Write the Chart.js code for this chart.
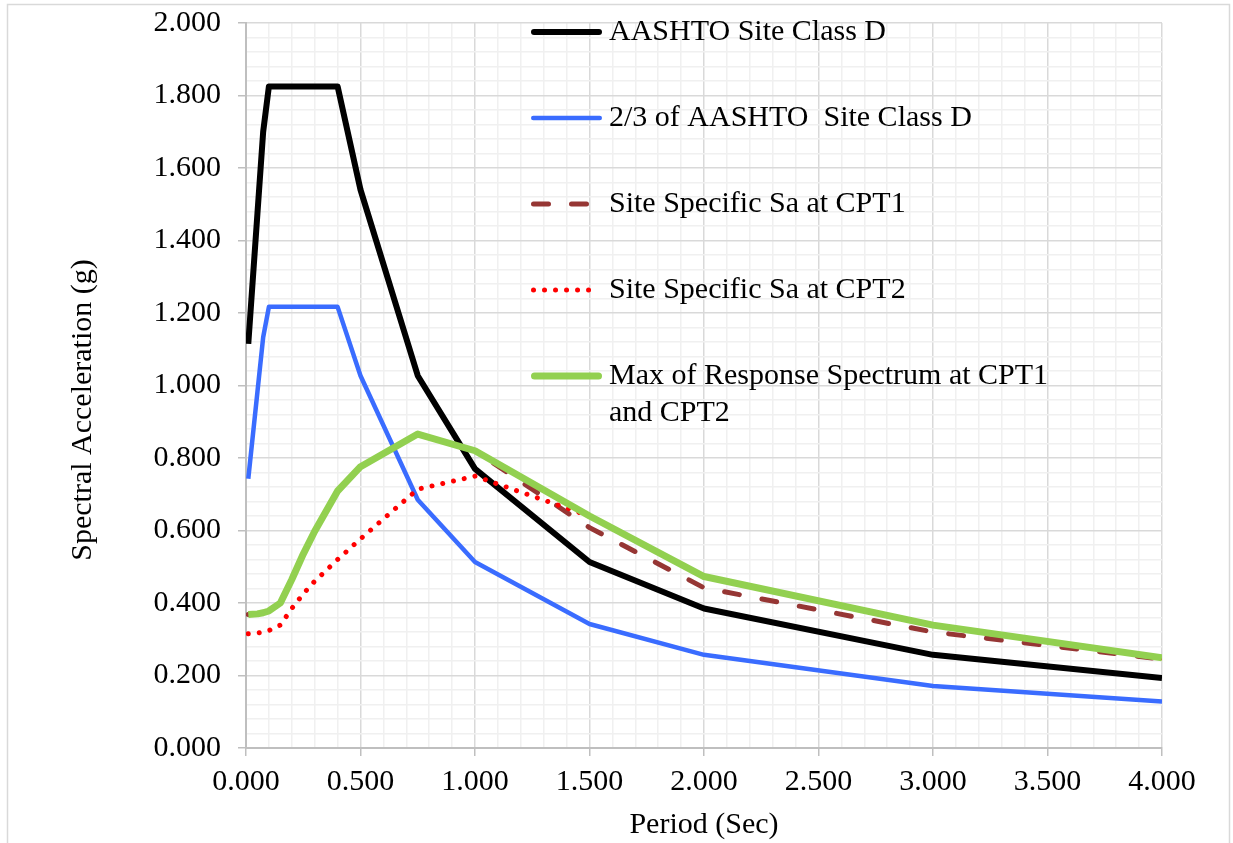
<!DOCTYPE html>
<html>
<head>
<meta charset="utf-8">
<script src="https://cdn.jsdelivr.net/npm/chart.js@4.4.1/dist/chart.umd.min.js"></script>
<style>
  html, body { margin: 0; padding: 0; background: #fff; }
  canvas { display: block; }
</style>
</head>
<body>
<canvas id="spectrumChart" width="1233" height="843"></canvas>
<script>
// Periods (sec) shared by every spectrum
const periods = [0.01, 0.05, 0.075, 0.1, 0.15, 0.2, 0.25, 0.3, 0.4, 0.5, 0.75, 1.0, 1.5, 2.0, 3.0, 4.0];

// Spectral acceleration (g)
const aashtoD    = [1.115, 1.475, 1.700, 1.825, 1.825, 1.825, 1.825, 1.825, 1.825, 1.540, 1.027, 0.770, 0.513, 0.385, 0.257, 0.193];
const twoThirdsD = [0.743, 0.983, 1.133, 1.217, 1.217, 1.217, 1.217, 1.217, 1.217, 1.027, 0.685, 0.513, 0.342, 0.257, 0.171, 0.128];
const sitesCpt1  = [0.368, 0.370, 0.373, 0.378, 0.400, 0.465, 0.535, 0.598, 0.709, 0.776, 0.866, 0.820, 0.608, 0.442, 0.320, 0.245];
const sitesCpt2  = [0.315, 0.317, 0.320, 0.324, 0.339, 0.385, 0.425, 0.460, 0.520, 0.577, 0.714, 0.750, 0.640, 0.473, 0.339, 0.249];
const maxEnvelope = [0.368, 0.370, 0.373, 0.378, 0.400, 0.465, 0.535, 0.598, 0.709, 0.776, 0.866, 0.820, 0.640, 0.473, 0.339, 0.249];

const seriesNames = [
    'AASHTO Site Class D',
    '2/3 of AASHTO  Site Class D',
    'Site Specific Sa at CPT1',
    'Site Specific Sa at CPT2',
    'Max of Response Spectrum at CPT1\nand CPT2'
];

const xTitle = 'Period (Sec)';
const yTitle = 'Spectral Acceleration (g)';

const xMin = 0, xMax = 4, xStep = 0.1, xMajor = 0.5;
const yMin = 0, yMax = 2, yStep = 0.04, yMajor = 0.2;

const FONT = "'Liberation Serif', 'Times New Roman', serif";

function isMultiple(v, m) {
    const r = v / m;
    return Math.abs(r - Math.round(r)) < 1e-6;
}

function points(values) {
    return periods.map((t, i) => ({ x: t, y: values[i] }));
}

// Legend drawn inside the plot area, over the grid
const insideLegend = {
    id: 'insideLegend',
    afterDraw(chart) {
        const ctx = chart.ctx;
        const rows = [32, 118, 204, 290, 376];
        const x0 = 531, x1 = 602, textX = 609;
        ctx.save();
        chart.data.datasets.forEach((ds, i) => {
            const y = rows[i];
            const w = ds.borderWidth;
            ctx.beginPath();
            ctx.strokeStyle = ds.borderColor;
            ctx.lineWidth = w;
            ctx.lineCap = 'round';
            ctx.setLineDash(ds.borderDash || []);
            ctx.moveTo(x0 + w / 2, y);
            ctx.lineTo(x1 - w / 2, y);
            ctx.stroke();
            ctx.setLineDash([]);
            ctx.fillStyle = '#000';
            ctx.font = '30px ' + FONT;
            ctx.textBaseline = 'middle';
            ctx.textAlign = 'left';
            ds.label.split('\n').forEach((line, k) => {
                ctx.fillText(line, textX, y + k * 37);
            });
        });
        ctx.restore();
    }
};

// White background, thin outline round the chart and the vertical axis title
const chartFrame = {
    id: 'chartFrame',
    beforeDraw(chart) {
        const ctx = chart.ctx;
        ctx.save();
        ctx.fillStyle = '#fff';
        ctx.fillRect(0, 0, chart.width, chart.height);
        ctx.strokeStyle = '#d9d9d9';
        ctx.lineWidth = 1.5;
        ctx.strokeRect(7.5, 4.5, 1222, 860);
        ctx.restore();
    },
    afterDraw(chart) {
        const ctx = chart.ctx;
        ctx.save();
        ctx.translate(83, 410);
        ctx.rotate(-Math.PI / 2);
        ctx.fillStyle = '#000';
        ctx.font = '30px ' + FONT;
        ctx.textAlign = 'center';
        ctx.textBaseline = 'middle';
        ctx.fillText(yTitle, 0, 0);
        ctx.restore();
    }
};

const ctx = document.getElementById('spectrumChart');
new Chart(ctx, {
    type: 'line',
    data: {
        datasets: [
            {
                label: seriesNames[0],
                data: points(aashtoD),
                borderColor: '#000000',
                borderWidth: 6,
                order: 4
            },
            {
                label: seriesNames[1],
                data: points(twoThirdsD),
                borderColor: '#3A6CFF',
                borderWidth: 4.5,
                order: 3
            },
            {
                label: seriesNames[2],
                data: points(sitesCpt1),
                borderColor: '#963634',
                borderWidth: 5,
                borderDash: [15, 23],
                borderCapStyle: 'round',
                order: 2
            },
            {
                label: seriesNames[3],
                data: points(sitesCpt2),
                borderColor: '#FF0000',
                borderWidth: 5,
                borderDash: [0.01, 11],
                borderCapStyle: 'round',
                order: 1
            },
            {
                label: seriesNames[4],
                data: points(maxEnvelope),
                borderColor: '#92D050',
                borderWidth: 7,
                order: 0
            }
        ]
    },
    options: {
        responsive: false,
        animation: false,
        events: [],
        elements: {
            point: { radius: 0 },
            line: { tension: 0, borderJoinStyle: 'round', fill: false }
        },
        layout: {
            autoPadding: false,
            padding: { left: 0, top: 23, right: 71, bottom: 0 }
        },
        plugins: {
            legend: { display: false },
            tooltip: { enabled: false }
        },
        scales: {
            x: {
                type: 'linear',
                min: xMin,
                max: xMax,
                afterFit: (scale) => {
                    scale.height = 95;
                    scale.paddingLeft = 0;
                    scale.paddingRight = 0;
                },
                ticks: {
                    stepSize: xStep,
                    autoSkip: false,
                    maxRotation: 0,
                    padding: 8,
                    color: '#000',
                    font: { family: FONT, size: 30 },
                    callback: (v) => isMultiple(v, xMajor) ? v.toFixed(3) : ''
                },
                grid: {
                    lineWidth: 1.5,
                    tickLength: 8,
                    color: (c) => isMultiple(c.tick.value, xMajor) ? '#d9d9d9' : '#f0f0f0',
                    tickColor: (c) => isMultiple(c.tick.value, xMajor) ? '#bfbfbf' : 'rgba(0,0,0,0)'
                },
                border: { color: '#bfbfbf', width: 2 },
                title: {
                    display: true,
                    text: xTitle,
                    color: '#000',
                    font: { family: FONT, size: 30 },
                    padding: { top: 0, bottom: 0 }
                }
            },
            y: {
                type: 'linear',
                min: yMin,
                max: yMax,
                afterFit: (scale) => {
                    scale.width = 246;
                    scale.paddingTop = 0;
                    scale.paddingBottom = 0;
                },
                ticks: {
                    stepSize: yStep,
                    autoSkip: false,
                    padding: 17,
                    color: '#000',
                    font: { family: FONT, size: 30 },
                    callback: (v) => isMultiple(v, yMajor) ? v.toFixed(3) : ''
                },
                grid: {
                    lineWidth: 1.5,
                    tickLength: 8,
                    color: (c) => isMultiple(c.tick.value, yMajor) ? '#d9d9d9' : '#f0f0f0',
                    tickColor: (c) => isMultiple(c.tick.value, yMajor) ? '#bfbfbf' : 'rgba(0,0,0,0)'
                },
                border: { color: '#bfbfbf', width: 2 },
                title: { display: false }
            }
        }
    },
    plugins: [chartFrame, insideLegend]
});
</script>
</body>
</html>
